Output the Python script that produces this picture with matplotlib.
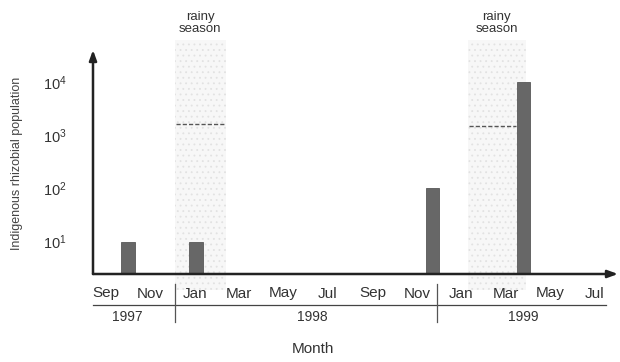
import matplotlib
matplotlib.use("Agg")
import matplotlib.pyplot as plt
import numpy as np

plt.rcParams["font.family"] = ["Liberation Sans", "DejaVu Sans"]
plt.rcParams["mathtext.fontset"] = "custom"
plt.rcParams["mathtext.rm"] = "Liberation Sans"
plt.rcParams["mathtext.it"] = "Liberation Sans"
plt.rcParams["hatch.linewidth"] = 0.6

# Months counted from September 1997 (0 = Sep 1997)
month_labels = ["Sep", "Nov", "Jan", "Mar", "May", "Jul",
                "Sep", "Nov", "Jan", "Mar", "May", "Jul"]
month_ticks = [0, 2, 4, 6, 8, 10, 12, 14, 16, 18, 20, 22]
years = ["1997", "1998", "1999"]
year_centres = [0.95, 9.3, 18.8]
year_breaks = [3.1, 14.9]

# Sampling dates and indigenous rhizobial counts
sample_month = [1.0, 4.05, 14.7, 18.8]
population = [10, 10, 100, 10000]

# Rainy seasons (start, end) in months and a reference level inside each
rainy_seasons = [(3.1, 5.4), (16.3, 18.9)]
rainy_level = [1650, 1500]
rainy_level_span = [(3.15, 5.35), (16.35, 18.45)]

fig = plt.figure(figsize=(6.2, 3.62), dpi=100)
ax = fig.add_axes([93 / 620, 88 / 362, 525 / 620, 224 / 362])
ax.set_yscale("log")
ax.set_xlim(-0.585, 23.06)
ax.set_ylim(10 ** 0.39, 10 ** 4.6)

for s in ax.spines.values():
    s.set_visible(False)

xt = ax.get_xaxis_transform()

# rainy season bands
for (a, b), lev, (la, lb) in zip(rainy_seasons, rainy_level, rainy_level_span):
    ax.axvspan(a, b, ymin=-0.07, ymax=1.045, facecolor="#f7f7f7",
               edgecolor="#e2e2e2", hatch="...", linewidth=0, clip_on=False,
               zorder=0)
    ax.hlines(lev, la, lb, colors="#555555", linestyles=(0, (3, 1.5)),
              linewidth=1.0, zorder=1)
    ax.text((a + b) / 2, 1.12, "rainy\nseason", transform=xt, ha="center",
            va="center", fontsize=9.5, color="#333333", linespacing=1.0)

# bars
ax.bar(sample_month, population, width=0.61, color="#676767",
       edgecolor="#585858", linewidth=0.6, zorder=2)

# axes with arrow heads
ax.annotate("", xy=(0, 1.0), xytext=(0, 0), xycoords="axes fraction",
            arrowprops=dict(arrowstyle="-|>,head_length=0.6,head_width=0.22",
                            lw=1.8, color="#222222", shrinkA=0, shrinkB=0))
ax.annotate("", xy=(1.0, 0), xytext=(0, 0), xycoords="axes fraction",
            arrowprops=dict(arrowstyle="-|>,head_length=0.6,head_width=0.22",
                            lw=1.8, color="#222222", shrinkA=0, shrinkB=0))

# y ticks
ax.set_yticks([10, 100, 1000, 10000])
ax.set_yticklabels([r"$10^1$", r"$10^2$", r"$10^3$", r"$10^4$"])
ax.minorticks_off()
ax.tick_params(axis="y", length=0, pad=19, labelsize=10.5, labelcolor="#333333")

# month ticks
ax.set_xticks(month_ticks)
ax.set_xticklabels(month_labels)
ax.tick_params(axis="x", length=0, pad=9, labelsize=11, labelcolor="#333333")

# year row
ax.plot([-0.585, 22.5], [-0.138, -0.138], transform=xt, color="#444444",
        lw=0.9, clip_on=False)
for xb in year_breaks:
    ax.plot([xb, xb], [-0.045, -0.214], transform=xt, color="#555555",
            lw=0.9, clip_on=False)
for yr, xc in zip(years, year_centres):
    ax.text(xc, -0.192, yr, transform=xt, ha="center", va="center",
            fontsize=10, color="#333333")

ax.text(9.3, -0.335, "Month", transform=xt, ha="center", va="center",
        fontsize=11, color="#333333")
fig.text(17 / 620, 1 - 163 / 362, "Indigenous rhizobial population",
         rotation=90, ha="center", va="center", fontsize=9, color="#444444")

fig.savefig("out.png", dpi=100, facecolor="white")
